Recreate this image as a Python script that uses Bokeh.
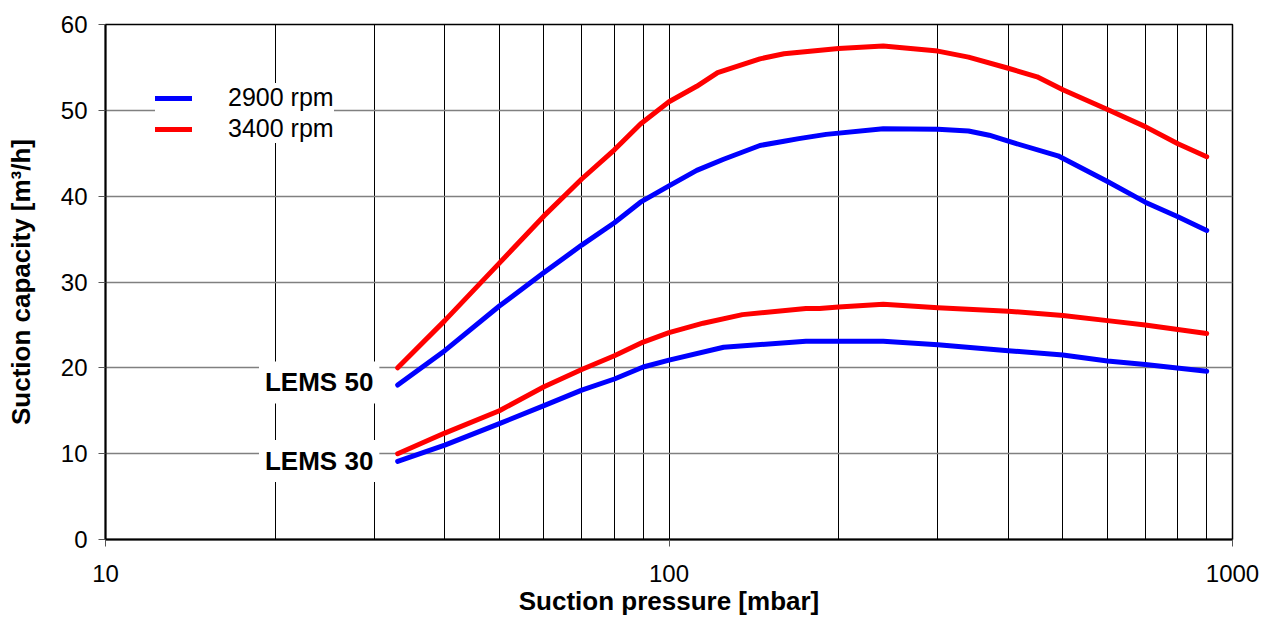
from bokeh.plotting import figure
from bokeh.models import FixedTicker, Label, Legend, LegendItem, BasicTickFormatter
from bokeh.embed import file_html
from bokeh.resources import INLINE

# ---- data ----
pressure_lems50_2900 = [33, 40, 50, 60, 70, 80, 89, 100, 112, 125, 145, 160, 170, 190, 240, 300, 340, 370, 400, 490, 600, 700, 800, 900]
capacity_lems50_2900 = [18.0, 22.0, 27.2, 31.1, 34.3, 36.9, 39.3, 41.2, 43.0, 44.3, 45.9, 46.4, 46.7, 47.2, 47.85, 47.8, 47.6, 47.1, 46.4, 44.7, 41.7, 39.3, 37.6, 36.0]

pressure_lems50_3400 = [33, 40, 50, 60, 70, 80, 89, 100, 112, 122, 145, 160, 200, 240, 300, 340, 400, 450, 500, 600, 700, 800, 900]
capacity_lems50_3400 = [20.0, 25.5, 32.2, 37.7, 42.0, 45.4, 48.4, 51.0, 52.8, 54.4, 56.0, 56.6, 57.2, 57.5, 56.9, 56.2, 54.9, 53.9, 52.4, 50.1, 48.1, 46.1, 44.6]

pressure_lems30_3400 = [33, 40, 50, 60, 70, 80, 90, 100, 115, 135, 175, 185, 200, 240, 300, 400, 500, 600, 700, 900]
capacity_lems30_3400 = [10.0, 12.4, 15.0, 17.8, 19.8, 21.4, 23.0, 24.1, 25.2, 26.2, 26.9, 26.9, 27.1, 27.4, 27.0, 26.6, 26.1, 25.5, 25.0, 24.0]

pressure_lems30_2900 = [33, 40, 50, 60, 70, 80, 90, 100, 125, 175, 240, 300, 400, 500, 600, 700, 900]
capacity_lems30_2900 = [9.1, 11.0, 13.5, 15.6, 17.4, 18.7, 20.1, 20.9, 22.4, 23.1, 23.1, 22.7, 22.0, 21.5, 20.8, 20.4, 19.6]

x_major_ticks = [10, 100, 1000]
x_minor_ticks = [20, 30, 40, 50, 60, 70, 80, 90, 200, 300, 400, 500, 600, 700, 800, 900]
y_ticks = [0, 10, 20, 30, 40, 50, 60]

series_labels = ["2900 rpm", "3400 rpm"]
pump_labels = ["LEMS 50", "LEMS 30"]

BLUE = "#0000FF"
RED = "#FF0000"
FONT = "Liberation Sans"

p = figure(width=1264, height=622, x_axis_type="log",
           x_range=(10, 1000), y_range=(0, 60),
           output_backend="svg", toolbar_location=None,
           min_border_left=105, min_border_right=32,
           min_border_top=24, min_border_bottom=83)

p.background_fill_color = "white"
p.border_fill_color = "white"
p.outline_line_color = "black"
p.outline_line_width = 1.5

# axes
p.xaxis.ticker = FixedTicker(ticks=x_major_ticks, minor_ticks=x_minor_ticks)
p.xaxis.formatter = BasicTickFormatter()
p.yaxis.ticker = FixedTicker(ticks=y_ticks)

for ax in (p.xaxis, p.yaxis):
    ax.axis_line_color = "black"
    ax.axis_line_width = 2
    ax.major_tick_line_color = "#555555"
    ax.major_tick_line_width = 1
    ax.major_tick_out = 7
    ax.major_tick_in = 0
    ax.minor_tick_line_color = None
    ax.major_label_text_font = FONT
    ax.major_label_text_font_size = "24px"
    ax.major_label_text_color = "black"
    ax.axis_label_text_font = FONT
    ax.axis_label_text_font_size = "26px"
    ax.axis_label_text_font_style = "bold"
    ax.axis_label_text_color = "black"

p.xaxis.axis_label = "Suction pressure [mbar]"
p.yaxis.axis_label = "Suction capacity [m³/h]"
p.xaxis.major_label_standoff = 18
p.xaxis.axis_label_standoff = 1
p.yaxis.major_label_standoff = 11
p.yaxis.axis_label_standoff = 22

# grids
p.xgrid.grid_line_color = "black"
p.xgrid.grid_line_width = 1
p.xgrid.minor_grid_line_color = "black"
p.xgrid.minor_grid_line_width = 1
p.ygrid.grid_line_color = "#808080"
p.ygrid.grid_line_width = 1.5

# curves
lw = 5
b50 = p.line(pressure_lems50_2900, capacity_lems50_2900, line_color=BLUE, line_width=lw, line_cap="round", line_join="round")
r50 = p.line(pressure_lems50_3400, capacity_lems50_3400, line_color=RED, line_width=lw, line_cap="round", line_join="round")
p.line(pressure_lems30_3400, capacity_lems30_3400, line_color=RED, line_width=lw, line_cap="round", line_join="round")
p.line(pressure_lems30_2900, capacity_lems30_2900, line_color=BLUE, line_width=lw, line_cap="round", line_join="round")

# legend
legend = Legend(items=[LegendItem(label=series_labels[0], renderers=[b50]),
                       LegendItem(label=series_labels[1], renderers=[r50])],
                location=(50, 396))
legend.background_fill_color = "white"
legend.background_fill_alpha = 1
legend.border_line_color = None
legend.label_text_font = FONT
legend.label_text_font_size = "25px"
legend.label_text_color = "black"
legend.glyph_width = 37
legend.glyph_height = 26
legend.label_height = 26
legend.label_standoff = 36
legend.spacing = 2
legend.padding = 10
legend.margin = 0
p.add_layout(legend)

# pump labels
for txt, yv in zip(pump_labels, [18.3, 9.15]):
    p.add_layout(Label(x=30, y=yv, text=txt, text_align="right", text_baseline="middle",
                       x_offset=5, text_font=FONT, text_font_size="26px",
                       text_font_style="bold", text_color="black",
                       background_fill_color="white", background_fill_alpha=1,
                       padding=6))

open("out.html", "w").write(file_html(p, INLINE))
